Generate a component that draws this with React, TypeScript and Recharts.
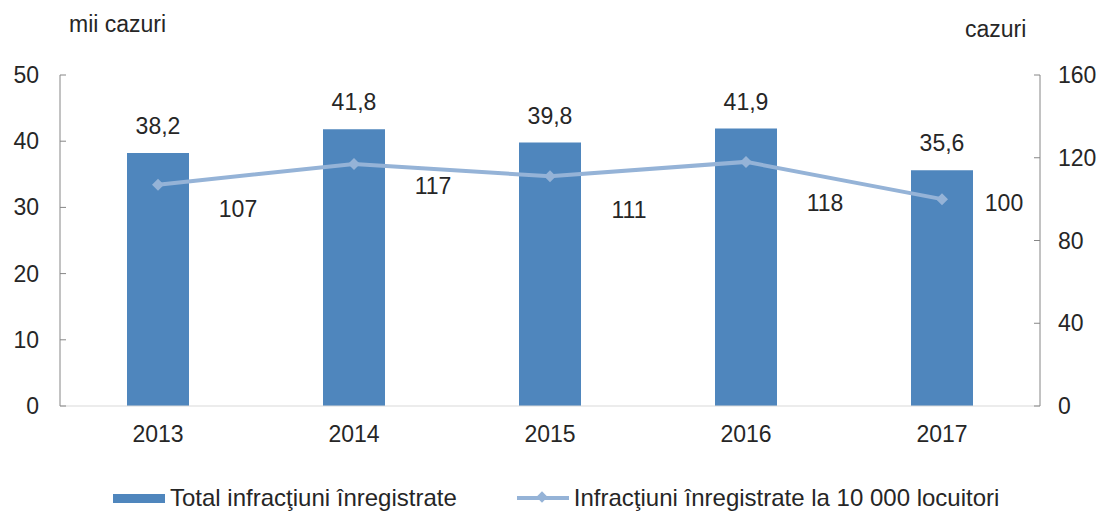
import React from "react";
import {
  ComposedChart,
  Bar,
  Line,
  XAxis,
  YAxis,
  LabelList,
} from "recharts";

const years = ["2013", "2014", "2015", "2016", "2017"];
const totalCrimes = [38.2, 41.8, 39.8, 41.9, 35.6];
const crimesPer10k = [107, 117, 111, 118, 100];
const leftTicks = [0, 10, 20, 30, 40, 50];
const rightTicks = [0, 40, 80, 120, 160];

// Excel-style manual label placement for the line values
const lineLabelOffsets = [
  [80, 24],
  [79, 22],
  [79, 34],
  [79, 41],
  [62, 4],
];

const BAR = "#4f86bd";
const LINE = "#95b3d7";
const AXIS = "#868686";
const TEXT = "#262626";
const FONT = "'Liberation Sans', Arial, sans-serif";
const FS = 23;

const data = years.map((y, i) => ({
  year: y,
  total: totalCrimes[i],
  rate: crimesPer10k[i],
}));

const LeftTick = (props: any) => {
  const { x, y, payload } = props;
  const axisX = x + 21;
  return (
    <g>
      <line x1={axisX} x2={axisX + 6} y1={y} y2={y} stroke={AXIS} />
      <text x={x} y={y} dy={8} textAnchor="end" fontSize={FS} fill={TEXT} fontFamily={FONT}>
        {payload.value}
      </text>
    </g>
  );
};

const RightTick = (props: any) => {
  const { x, y, payload } = props;
  const axisX = x - 18;
  return (
    <g>
      <line x1={axisX} x2={axisX - 6} y1={y} y2={y} stroke={AXIS} />
      <text x={x} y={y} dy={8} textAnchor="start" fontSize={FS} fill={TEXT} fontFamily={FONT}>
        {payload.value}
      </text>
    </g>
  );
};

const Diamond = (props: any) => {
  const { cx, cy } = props;
  if (cx == null || cy == null) return null;
  const r = 6;
  return (
    <path
      d={`M${cx},${cy - r} L${cx + r},${cy} L${cx},${cy + r} L${cx - r},${cy} Z`}
      fill={LINE}
    />
  );
};

const RateLabel = (props: any) => {
  const { x, y, value, index } = props;
  const [dx, dy] = lineLabelOffsets[index] || [0, 0];
  return (
    <text
      x={x + dx}
      y={y + dy}
      dy={8}
      textAnchor="middle"
      fontSize={FS}
      fill={TEXT}
      fontFamily={FONT}
    >
      {value}
    </text>
  );
};

export default function App() {
  return (
    <div style={{ position: "absolute", left: 0, top: 0, width: 1102, height: 519, background: "#fff", fontFamily: FONT }}>
      <div style={{ position: "absolute", left: 69, top: 11, fontSize: FS, color: TEXT }}>mii cazuri</div>
      <div style={{ position: "absolute", left: 965, top: 16, fontSize: FS, color: TEXT }}>cazuri</div>
      <ComposedChart
        width={1102}
        height={519}
        data={data}
        margin={{ top: 75, right: 0, left: 0, bottom: 83 }}
      >
        <XAxis
          dataKey="year"
          height={30}
          tickLine={false}
          axisLine={{ stroke: "#d9d9d9" }}
          tickMargin={14}
          tick={{ fontSize: FS, fill: TEXT, fontFamily: FONT }}
        />
        <YAxis
          yAxisId="left"
          width={60}
          domain={[0, 50]}
          ticks={leftTicks}
          tickLine={false}
          tickSize={0}
          tickMargin={21}
          axisLine={{ stroke: AXIS }}
          tick={<LeftTick />}
        />
        <YAxis
          yAxisId="right"
          orientation="right"
          width={62}
          domain={[0, 160]}
          ticks={rightTicks}
          tickLine={false}
          tickSize={0}
          tickMargin={18}
          axisLine={{ stroke: AXIS }}
          tick={<RightTick />}
        />
        <Bar yAxisId="left" dataKey="total" fill={BAR} barSize={62} isAnimationActive={false}>
          <LabelList
            dataKey="total"
            position="top"
            offset={19}
            formatter={(v: any) => String(v).replace(".", ",")}
            style={{ fontSize: FS, fill: TEXT, fontFamily: FONT }}
          />
        </Bar>
        <Line
          yAxisId="right"
          dataKey="rate"
          stroke={LINE}
          strokeWidth={4}
          dot={<Diamond />}
          activeDot={false}
          isAnimationActive={false}
        >
          <LabelList dataKey="rate" content={<RateLabel />} />
        </Line>
      </ComposedChart>
      <div style={{ position: "absolute", left: 113, top: 484, display: "flex", alignItems: "center", fontSize: 24, color: TEXT }}>
        <span style={{ display: "inline-block", width: 52, height: 9, background: BAR, marginRight: 5 }} />
        <span>Total infracţiuni înregistrate</span>
        <span style={{ display: "inline-block", width: 52, height: 12, marginLeft: 60, marginRight: 5, position: "relative" }}>
          <span style={{ position: "absolute", left: 0, top: 4, width: 52, height: 4, background: LINE }} />
          <span style={{ position: "absolute", left: 21, top: 1, width: 8, height: 8, background: LINE, transform: "rotate(45deg)" }} />
        </span>
        <span>Infracţiuni înregistrate la 10 000 locuitori</span>
      </div>
    </div>
  );
}
